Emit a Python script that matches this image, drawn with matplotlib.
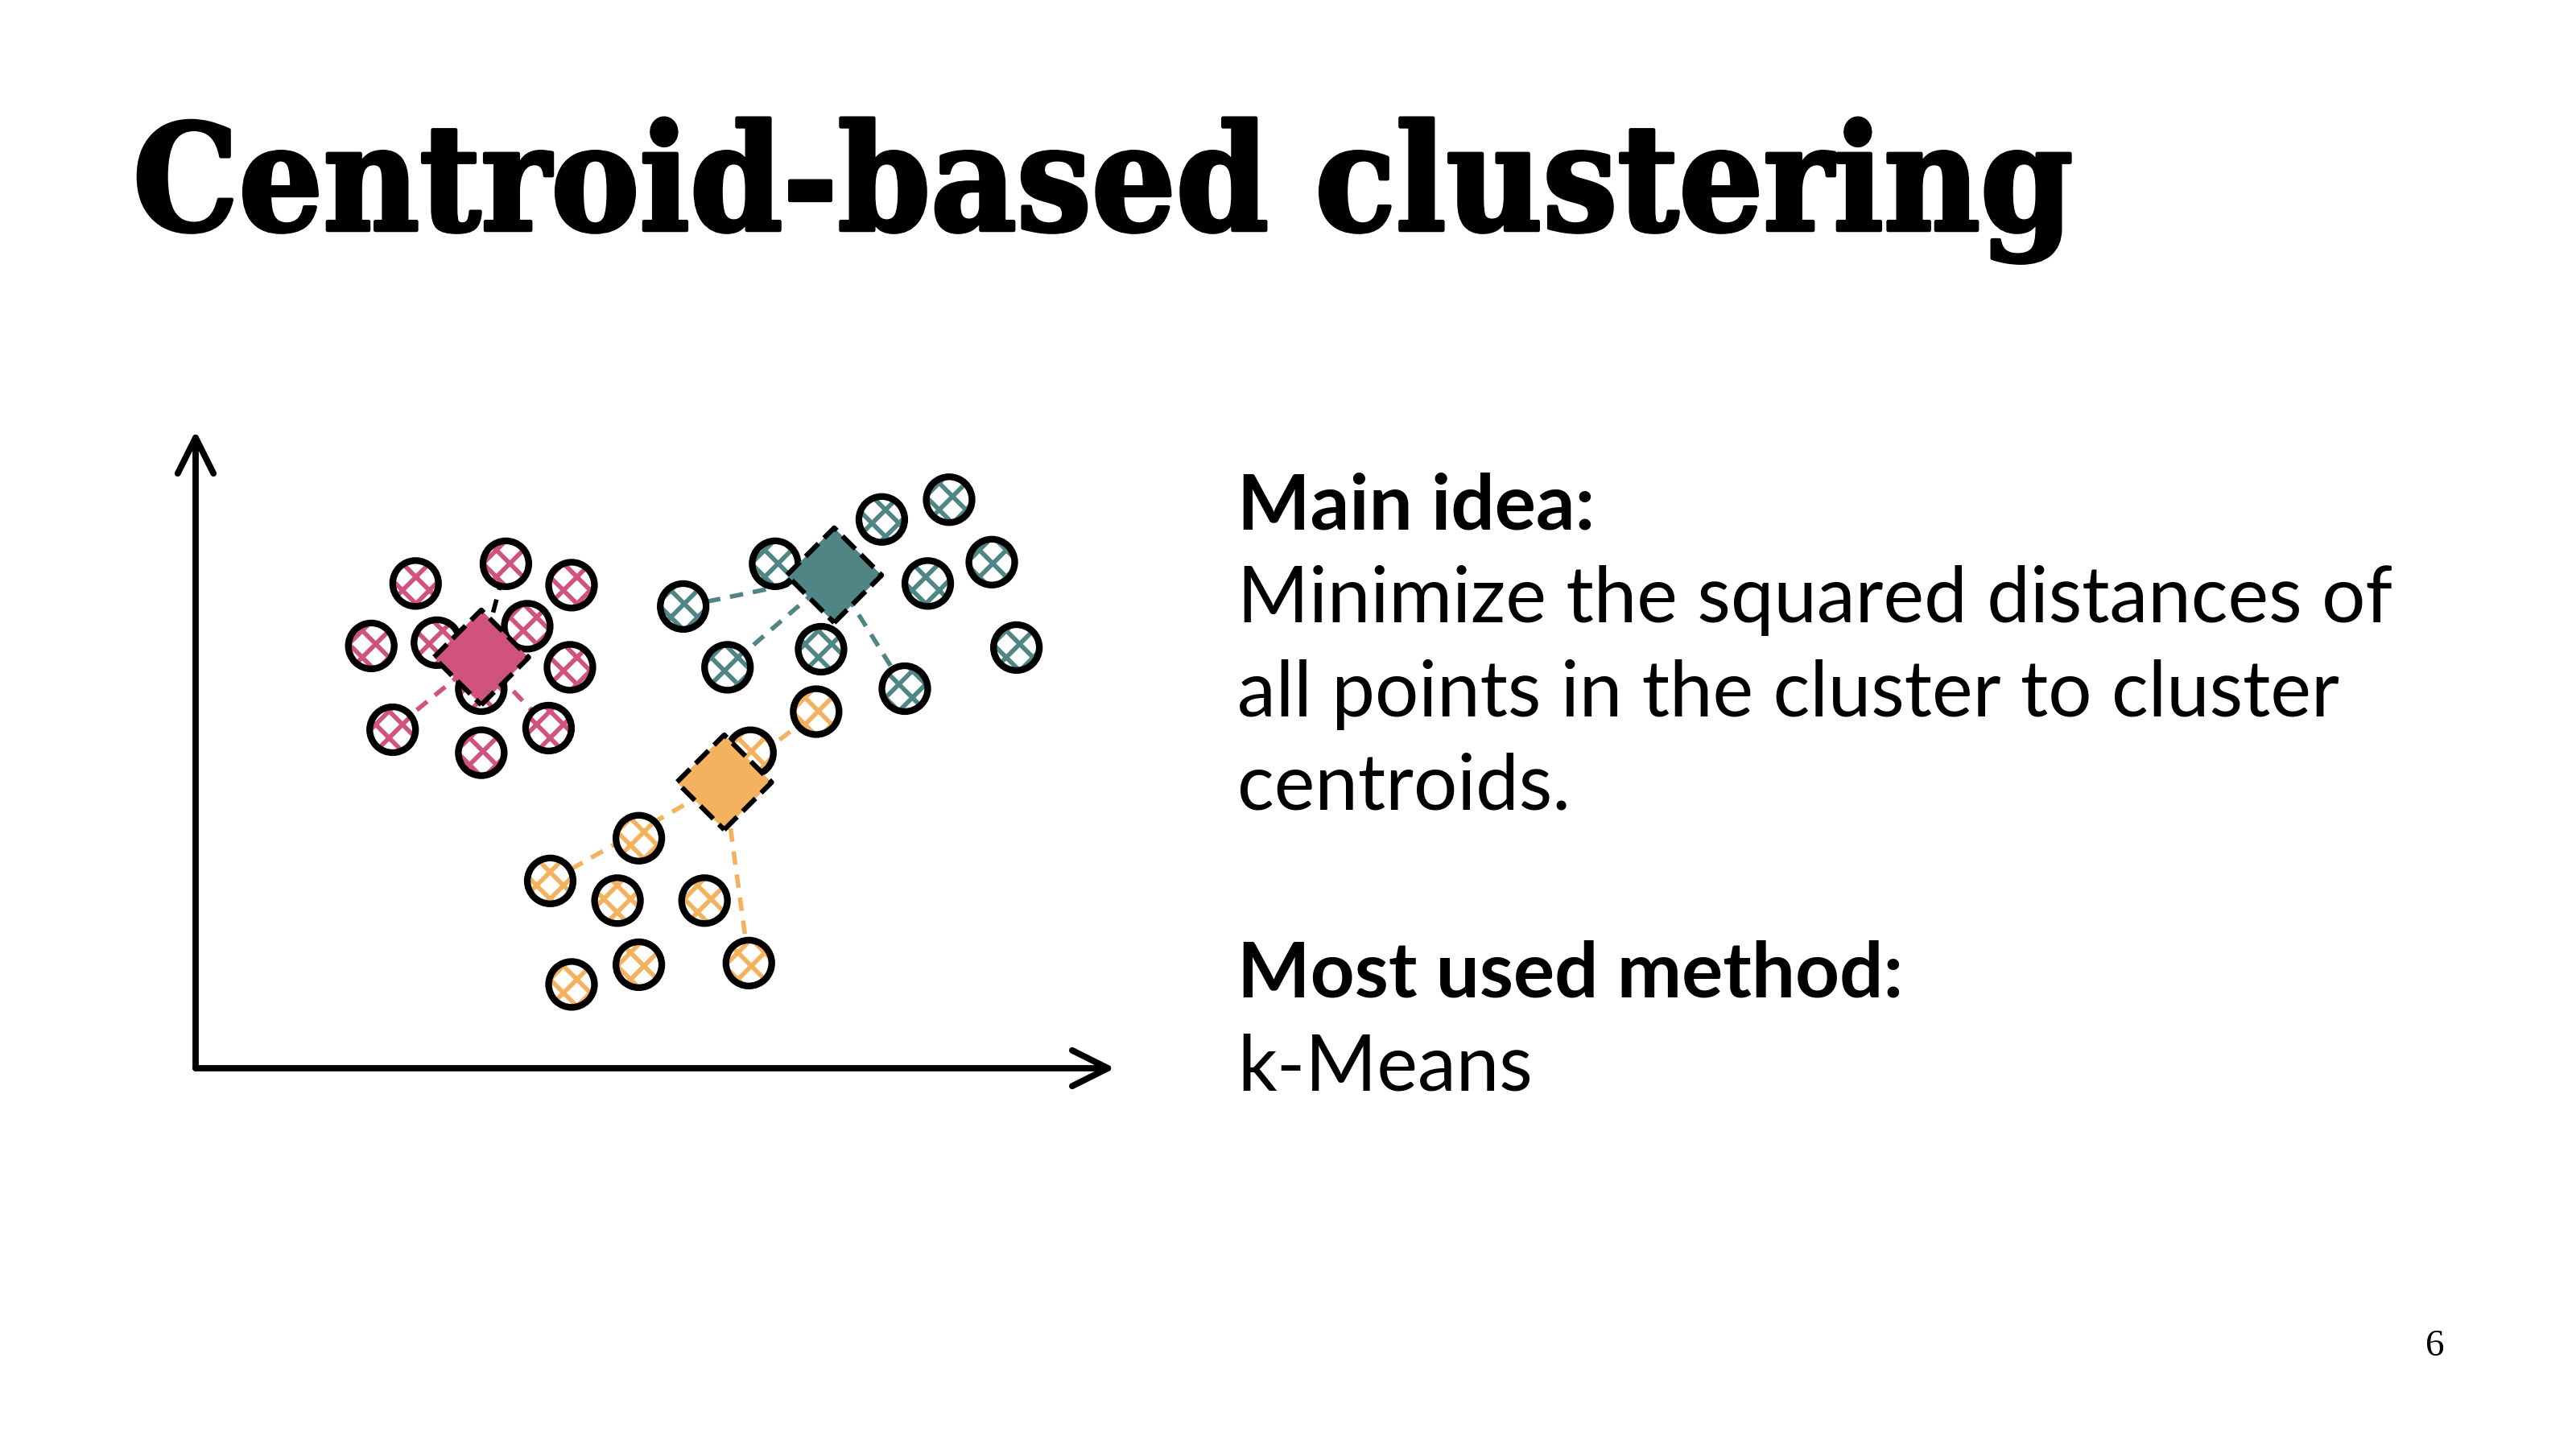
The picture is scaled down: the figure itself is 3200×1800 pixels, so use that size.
import matplotlib.pyplot as plt
import matplotlib.patheffects as pe

# sketch coordinates (origin at the axes corner)
pink_x = [134, 189, 229, 107, 147, 202, 228, 174, 120, 174, 215]
pink_y = [295, 307, 294, 257, 259, 269, 244, 231, 206, 192, 207]
teal_x = [297, 353, 418, 459, 446, 485, 324, 381, 432, 500]
teal_y = [281, 307, 334, 346, 295, 308, 244, 255, 231, 256]
orange_x = [378, 338, 270, 216, 257, 310, 229, 270, 337]
orange_y = [217, 192, 140, 114, 102, 102, 51, 63, 64]

centroid_x = [174, 389, 322]
centroid_y = [250, 300, 174]

# which points get a dashed link to their centroid
pink_links = [1, 8, 10]
teal_links = [0, 6, 8]
orange_links = [0, 3, 8]

colors = ['#d2527f', '#4f8584', '#f4b25e']

title = 'Centroid-based clustering'
body_lines = [
    ('Main idea:', 'bold'),
    ('Minimize the squared distances of', 'normal'),
    ('all points in the cluster to cluster', 'normal'),
    ('centroids.', 'normal'),
    ('', 'normal'),
    ('Most used method:', 'bold'),
    ('k-Means', 'normal'),
]
page_no = '6'


def main():
    fig = plt.figure(figsize=(16, 9), dpi=200)
    fig.patch.set_facecolor('white')

    # heavy slab title; a thin stroke makes it closer to the slide's black weight
    fig.text(165 / 3200, 1 - 286 / 1800, title, family='DejaVu Serif',
             stretch='condensed', weight='bold', size=66, va='baseline', ha='left',
             path_effects=[pe.withStroke(linewidth=1.6, foreground='black')])

    # right-hand text block
    y0 = 657
    for i, (line, w) in enumerate(body_lines):
        if not line:
            continue
        fig.text(1537 / 3200, 1 - (y0 + i * 116.3) / 1800, line, family='Lato',
                 weight=w, size=34.5, va='baseline', ha='left')

    fig.text(3025 / 3200, 1 - 1684 / 1800, page_no, family='Liberation Serif',
             size=17, ha='center', va='baseline')

    # the sketch
    ax = fig.add_axes([243 / 3200, 1 - 1327 / 1800, 1142 / 3200, 792 / 1800])
    ax.set_xlim(0, 560)
    ax.set_ylim(0, 388)
    ax.axis('off')

    arrow = dict(arrowstyle='->', lw=2.8, color='black', mutation_scale=40,
                 shrinkA=0, shrinkB=0, capstyle='round')
    ax.annotate('', xy=(0, 388), xytext=(0, 0), arrowprops=arrow,
                annotation_clip=False)
    ax.annotate('', xy=(560, 0), xytext=(0, 0), arrowprops=arrow,
                annotation_clip=False)

    clusters = [(pink_x, pink_y, pink_links),
                (teal_x, teal_y, teal_links),
                (orange_x, orange_y, orange_links)]

    for k, (xs, ys, links) in enumerate(clusters):
        c = colors[k]
        cx, cy = centroid_x[k], centroid_y[k]
        for j in links:
            lc = 'black' if (k == 0 and j == 1) else c
            ax.plot([cx, xs[j]], [cy, ys[j]], ls=(0, (3, 2.2)), lw=2.0,
                    color=lc, zorder=1)
        # hatched fill
        with plt.rc_context({'hatch.color': c, 'hatch.linewidth': 2.0}):
            ax.scatter(xs, ys, s=420, facecolor='white', edgecolor=c,
                       linewidth=0, hatch='xx', zorder=2)
        # ink outline
        ax.scatter(xs, ys, s=420, facecolor='none', edgecolor='black',
                   linewidth=3.0, zorder=3)
        ax.scatter([cx], [cy], s=900, marker='D', facecolor=c,
                   edgecolor='black', linewidth=2.2, linestyle='--', zorder=4)

    fig.savefig('out.png', dpi=200, facecolor='white')


if __name__ == '__main__':
    main()
